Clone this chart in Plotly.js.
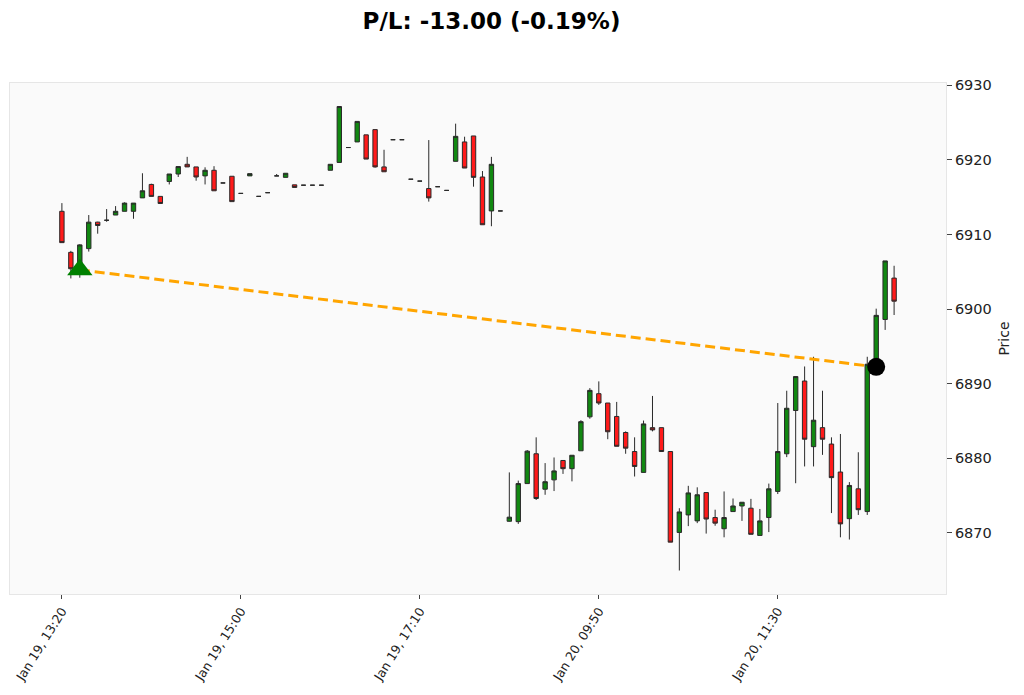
<!DOCTYPE html>
<html>
<head>
<meta charset="utf-8">
<script src="https://cdn.plot.ly/plotly-3.0.1.min.js"></script>
<style>html,body{margin:0;padding:0;background:#fff;}#chart{width:1024px;height:695px;}</style>
</head>
<body>
<div id="chart"></div>
<script>
// OHLC values, one per 5-minute bar (index-based x axis, non-trading gaps removed)
const opens = [
  6913.1, 6907.6, 6905.45, 6908.1, 6911.65, 6911.9, 6912.6, 6913.1, 6913.1, 6914.9,
  6916.7, 6915.1, 6917.1, 6918.1, 6919.4, 6919.05, 6917.85, 6918.6, 6916.9, 6917.8,
  6915.5, 6917.85, 6915.1, 6915.6, 6917.85, 6917.65, 6916.65, 6916.6, 6916.6, 6916.6,
  6918.6, 6919.65, 6921.65, 6922.4, 6923.35, 6924.05, 6919.05, 6922.7, 6922.7, 6917.4,
  6917.15, 6916.15, 6916.4, 6915.9, 6919.8, 6922.4, 6923.2, 6917.7, 6913.15, 6913.15,
  6871.55, 6871.5, 6876.6, 6880.6, 6875.85, 6877.1, 6879.7, 6878.6, 6881.0, 6885.55,
  6888.65, 6887.4, 6885.6, 6883.45, 6880.9, 6878.1, 6884.1, 6884.1, 6880.9, 6870.05,
  6872.4, 6871.6, 6875.4, 6872.05, 6870.55, 6872.85, 6873.6, 6873.3, 6869.65, 6872.05,
  6875.55, 6880.6, 6886.4, 6890.35, 6881.55, 6884.1, 6881.9, 6878.15, 6871.9, 6875.9,
  6872.85, 6892.5, 6898.6, 6904.15
];
const highs = [
  6914.2, 6907.8, 6908.7, 6912.6, 6911.7, 6913.4, 6913.8, 6914.3, 6914.2, 6918.2,
  6916.8, 6915.1, 6918.1, 6919.1, 6920.4, 6919.05, 6919.0, 6919.15, 6916.9, 6917.8,
  6915.5, 6918.15, 6915.1, 6915.6, 6918.1, 6918.2, 6916.65, 6916.6, 6916.6, 6916.6,
  6919.4, 6927.15, 6921.65, 6925.15, 6923.35, 6924.05, 6921.35, 6922.7, 6922.7, 6917.4,
  6917.15, 6922.65, 6916.4, 6915.9, 6924.85, 6923.1, 6923.2, 6918.5, 6920.4, 6913.15,
  6878.1, 6877.0, 6881.1, 6882.8, 6879.35, 6880.1, 6879.7, 6880.4, 6885.1, 6889.4,
  6890.3, 6887.4, 6887.55, 6883.6, 6882.8, 6885.05, 6888.35, 6884.1, 6880.9, 6873.3,
  6876.3, 6876.1, 6875.4, 6873.1, 6875.55, 6874.6, 6874.1, 6874.55, 6873.2, 6876.6,
  6887.4, 6889.05, 6890.95, 6892.3, 6893.6, 6889.05, 6882.8, 6883.25, 6876.8, 6880.8,
  6893.6, 6900.05, 6906.45, 6905.8
];
const lows = [
  6908.9, 6904.1, 6904.2, 6907.7, 6910.1, 6911.7, 6912.6, 6913.1, 6912.1, 6914.9,
  6915.1, 6914.15, 6916.7, 6917.7, 6919.05, 6917.2, 6916.7, 6915.85, 6916.9, 6914.4,
  6915.5, 6917.85, 6915.1, 6915.6, 6917.85, 6917.65, 6916.3, 6916.6, 6916.6, 6916.6,
  6918.6, 6919.65, 6921.65, 6922.4, 6920.1, 6918.95, 6918.4, 6922.7, 6922.7, 6917.4,
  6917.15, 6914.4, 6916.4, 6915.9, 6919.8, 6918.9, 6916.4, 6911.3, 6911.1, 6913.15,
  6871.5, 6871.2, 6876.6, 6874.4, 6875.1, 6875.6, 6877.9, 6876.9, 6881.0, 6885.3,
  6887.15, 6882.55, 6881.6, 6880.6, 6877.55, 6878.1, 6883.6, 6880.9, 6868.75, 6864.95,
  6870.9, 6871.3, 6869.9, 6870.95, 6869.4, 6872.85, 6871.6, 6869.8, 6869.65, 6870.1,
  6875.2, 6880.15, 6876.65, 6878.9, 6878.9, 6880.45, 6872.65, 6869.4, 6869.1, 6872.4,
  6872.4, 6892.5, 6897.2, 6899.2
];
const closes = [
  6908.9, 6905.4, 6908.6, 6911.65, 6911.2, 6911.9, 6913.1, 6914.2, 6914.2, 6915.85,
  6915.1, 6914.15, 6918.1, 6919.1, 6919.05, 6917.7, 6918.6, 6915.85, 6916.9, 6914.4,
  6915.5, 6918.15, 6915.1, 6915.6, 6917.85, 6918.2, 6916.3, 6916.6, 6916.6, 6916.6,
  6919.4, 6927.15, 6921.65, 6925.15, 6920.1, 6919.05, 6918.4, 6922.7, 6922.7, 6917.4,
  6917.15, 6914.9, 6916.4, 6915.9, 6923.15, 6918.9, 6917.65, 6911.3, 6919.4, 6913.15,
  6872.1, 6876.6, 6880.95, 6874.6, 6876.85, 6878.3, 6878.6, 6880.4, 6884.9, 6889.1,
  6887.4, 6883.55, 6881.6, 6881.35, 6878.9, 6884.6, 6883.8, 6880.9, 6868.75, 6872.8,
  6875.35, 6875.1, 6871.85, 6871.3, 6872.05, 6873.6, 6874.1, 6869.8, 6871.6, 6875.9,
  6880.9, 6886.7, 6890.95, 6882.55, 6885.1, 6882.55, 6877.4, 6871.2, 6876.35, 6873.1,
  6892.6, 6899.15, 6906.45, 6901.05
];

// x tick positions (bar index) and labels
const tickIndex = [0, 20, 40, 60, 80];
const tickLabels = ["Jan 19, 13:20", "Jan 19, 15:00", "Jan 19, 17:10", "Jan 20, 09:50", "Jan 20, 11:30"];

// trade
const entryIndex = [2];
const entryPrice = [6905.25];
const exitIndex = [91];
const exitPrice = [6892.25];

const xIdx = opens.map((_, i) => i);
const pl = exitPrice[0] - entryPrice[0];
const plPct = pl / entryPrice[0] * 100;
const titleText = "P/L: " + pl.toFixed(2) + " (" + plPct.toFixed(2) + "%)";

const lineCol = "#2a2a2a";
const traces = [
  {
    type: "candlestick",
    x: xIdx, open: opens, high: highs, low: lows, close: closes,
    increasing: {fillcolor: "#118811", line: {color: lineCol, width: 1}},
    decreasing: {fillcolor: "#ff1a1a", line: {color: lineCol, width: 1}},
    whiskerwidth: 0,
    showlegend: false, hoverinfo: "x+y"
  },
  {
    type: "scatter", mode: "lines",
    x: [entryIndex[0], exitIndex[0]], y: [entryPrice[0], exitPrice[0]],
    line: {color: "#FFA500", width: 3, dash: "10px,5px"},
    showlegend: false, hoverinfo: "skip"
  },
  {
    type: "scatter", mode: "markers",
    x: entryIndex, y: entryPrice,
    marker: {symbol: "triangle-up", size: 22, color: "#008000"},
    showlegend: false
  },
  {
    type: "scatter", mode: "markers",
    x: exitIndex, y: exitPrice,
    marker: {symbol: "circle", size: 18, color: "#000000"},
    showlegend: false
  }
];

const layout = {
  width: 1024, height: 695,
  margin: {l: 10, r: 78, t: 83, b: 101},
  paper_bgcolor: "#ffffff",
  plot_bgcolor: "#fafafa",
  font: {family: "DejaVu Sans, sans-serif", color: "#222222"},
  title: {
    text: "<b>" + titleText + "</b>",
    x: 0.48, xref: "container", xanchor: "center",
    y: 0.97, yref: "container", yanchor: "middle",
    font: {size: 23, color: "#000000", family: "DejaVu Sans, sans-serif"}
  },
  xaxis: {
    range: [-5.8, 98.8],
    tickmode: "array", tickvals: tickIndex, ticktext: tickLabels,
    tickangle: -58,
    ticklabeloverflow: "allow",
    ticks: "outside", ticklen: 4, tickcolor: "#444",
    tickfont: {size: 12.5, color: "#222"},
    showgrid: false, zeroline: false,
    showline: true, linecolor: "#e6e6e6", mirror: true,
    rangeslider: {visible: false}
  },
  yaxis: {
    side: "right",
    range: [6861.8, 6930.3],
    tickvals: [6870, 6880, 6890, 6900, 6910, 6920, 6930],
    ticks: "outside", ticklen: 5, tickcolor: "#444",
    tickfont: {size: 14.5, color: "#222"},
    showgrid: false, zeroline: false,
    showline: true, linecolor: "#e6e6e6", mirror: true,
    title: {text: "Price", font: {size: 14, color: "#222"}, standoff: 8}
  }
};

Plotly.newPlot("chart", traces, layout, {displayModeBar: false, staticPlot: true});
</script>
</body>
</html>
